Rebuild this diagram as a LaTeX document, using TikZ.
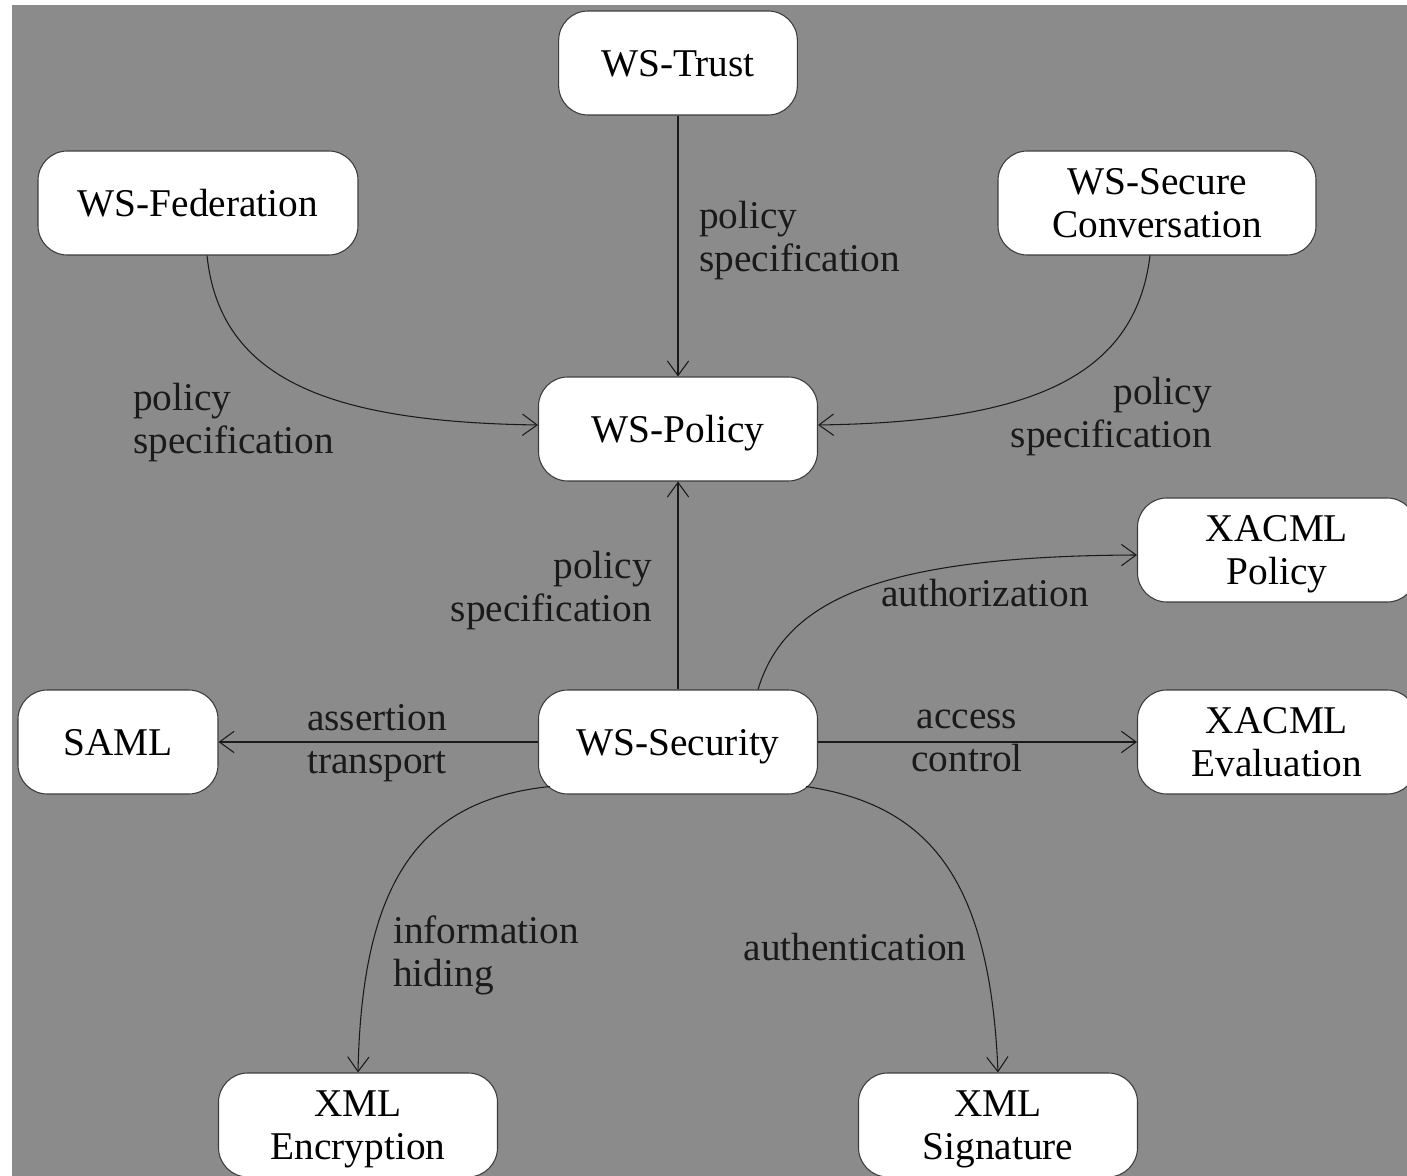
\documentclass[tikz,border=0pt]{standalone}
\usepackage{fontspec}
\setmainfont{Liberation Serif}
\usetikzlibrary{arrows.meta,calc}
\definecolor{bg}{HTML}{8B8B8B}
\definecolor{ink}{HTML}{1A1A1A}
\begin{document}
\begin{tikzpicture}[x=0.75pt,y=-0.75pt,
  box/.style={draw=ink!85, fill=white, rounded corners=22pt, minimum width=209.25pt,
    minimum height=78pt, align=center, font=\fontsize{29.5}{32.25}\selectfont, text=black,
    line width=0.8pt, inner sep=0pt, text depth=0pt},
  lbl/.style={font=\fontsize{29.5}{32.25}\selectfont, text=ink, inner sep=0pt, text depth=0pt},
  arr/.style={draw=ink, line width=0.8pt, -{Straight Barb[length=11pt,width=16pt,line width=0.8pt]}}]
\useasboundingbox (0,0) rectangle (1407,1176);
\clip (0,0) rectangle (1407,1176);
\fill[white] (0,0) rectangle (1407,1176);
\fill[bg] (12,5) rectangle (1407,1176);

% nodes
\node[box, minimum width=179pt] (trust) at (678,63) {WS-Trust};
\node[box, minimum width=240pt] (fed) at (198,203) {WS-Federation};
\node[box, minimum width=238.5pt] (sec) at (1157,203) {WS-Secure\\Conversation};
\node[box] (pol) at (678,429) {WS-Policy};
\node[box] (xpol) at (1277,550) {XACML\\Policy};
\node[box, minimum width=150pt] (saml) at (118,742) {SAML};
\node[box] (wss) at (678,742) {WS-Security};
\node[box] (xeval) at (1277,742) {XACML\\Evaluation};
\node[box] (xenc) at (358,1125) {XML\\Encryption};
\node[box] (xsig) at (998,1125) {XML\\Signature};

% connectors
\draw[arr] (trust.south) -- (pol.north);
\draw[arr] ($(fed.south)+(9,0)$) .. controls (220,380) and (330,422) .. ($(pol.west)+(0,-4)$);
\draw[arr] ($(sec.south)+(-7,0)$) .. controls (1135,380) and (1025,422) .. ($(pol.east)+(0,-4)$);
\draw[arr] (wss.north) -- (pol.south);
\draw[arr] ($(wss.north)+(80,0)$) .. controls (785,600) and (880,556) .. ($(xpol.west)+(0,5)$);
\draw[arr] (wss.west) -- (saml.east);
\draw[arr] (wss.east) -- (xeval.west);
\draw[arr] ($(wss.south west)+(12,-8)$) .. controls (420,800) and (362,880) .. (xenc.north);
\draw[arr] ($(wss.south east)+(-12,-8)$) .. controls (930,805) and (990,880) .. (xsig.north);

% labels
\node[lbl, anchor=west, align=left] (l1) at (699,236) {policy\\specification};
\node[lbl, anchor=west, align=left] (l2) at (133,418) {policy\\specification};
\node[lbl, anchor=east, align=right] (l3) at (1212,412) {policy\\specification};
\node[lbl, anchor=east, align=right] (l4) at (652,586) {policy\\specification};
\node[lbl] (l5) at (985,593) {authorization};
\node[lbl, align=center] (l6) at (377,739) {assertion\\transport};
\node[lbl, align=center] (l7) at (967,741) {access\\control};
\node[lbl, anchor=west, align=left] (l8) at (393,951) {information\\hiding};
\node[lbl] (l9) at (855,947) {authentication};
\end{tikzpicture}
\end{document}
